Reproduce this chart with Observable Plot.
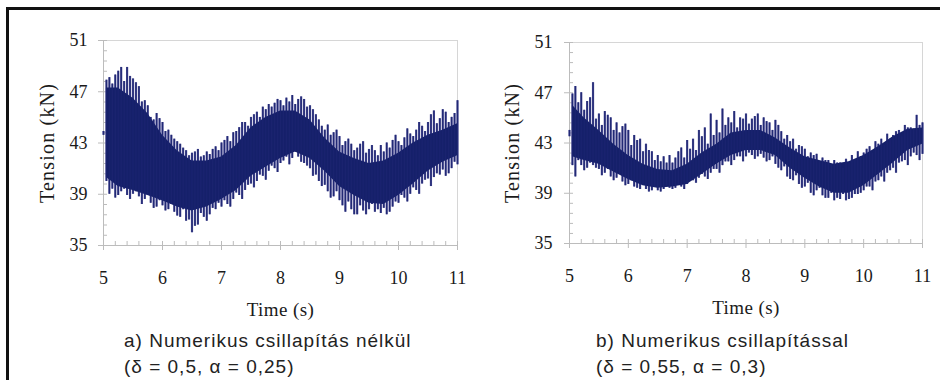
<!DOCTYPE html>
<html><head><meta charset="utf-8">
<script src="https://cdn.jsdelivr.net/npm/d3@7"></script>
<script src="https://cdn.jsdelivr.net/npm/@observablehq/plot@0.6"></script>
<style>
body{margin:0;background:#fff;width:940px;height:380px;overflow:hidden;position:relative;}
#frame{position:absolute;left:6px;top:7px;width:940px;height:380px;border-left:3px solid #111;border-top:3px solid #111;z-index:5;}
.panel{position:absolute;top:0;}
.panel svg, .panel svg text{font-family:"Liberation Serif","Times New Roman",serif !important;}
.cap{position:absolute;font-family:"Liberation Sans",Arial,sans-serif;font-size:19px;letter-spacing:1px;color:#222;line-height:26px;white-space:nowrap;}
</style></head><body>
<div id="frame"></div>
<div id="a" class="panel" style="left:0"></div>
<div id="b" class="panel" style="left:470px"></div>
<div class="cap" style="left:124px;top:328px">a) Numerikus csillapítás nélkül<br>(δ = 0,5, α = 0,25)</div>
<div class="cap" style="left:596px;top:328px">b) Numerikus csillapítással<br>(δ = 0,55, α = 0,3)</div>
<script>
// axis ticks
const xTicks = [5, 6, 7, 8, 9, 10, 11];
const yTicks = [35, 39, 43, 47, 51];
const xLabel = "Time (s)";
const yLabel = "Tension (kN)";

// dense core of the signal (time in s, tension in kN)
const coreT = [5.05,5.25,5.5,5.75,6,6.25,6.5,6.75,7,7.25,7.5,7.75,8,8.25,8.5,8.75,9,9.25,9.5,9.75,10,10.25,10.5,10.75,11];
const aCoreHi = [47.3,47.3,46.5,45.3,43.6,42.4,41.6,41.6,41.9,42.8,44.2,45.0,45.5,45.5,44.8,43.4,42.3,41.8,41.4,41.6,42.2,43.0,43.6,44.0,44.5];
const aCoreLo = [40.3,39.6,39.3,38.9,38.5,38.0,37.7,38.0,38.6,39.3,40.4,41.1,41.8,42.3,41.8,40.8,39.6,38.9,38.3,38.2,38.9,39.8,40.8,41.5,42.0];
const bCoreHi = [46.0,45.0,44.0,42.9,42.0,41.3,40.9,40.8,41.3,42.2,42.9,43.8,44.0,44.0,43.4,42.6,41.9,41.6,41.3,41.5,42.0,42.7,43.5,44.1,44.2];
const bCoreLo = [41.9,41.6,41.3,40.7,40.1,39.6,39.4,39.5,39.7,40.5,41.3,42.0,42.4,42.4,42.0,41.0,40.2,39.5,39.0,39.0,39.6,40.5,41.4,42.4,42.9];

// oscillation extremes (spikes), at whole tenths of a second
const spikeT = [5.0,5.1,5.2,5.3,5.4,5.5,5.6,5.7,5.8,5.9,6.0,6.1,6.2,6.3,6.4,6.5,6.6,6.7,6.8,6.9,7.0,7.1,7.2,7.3,7.4,7.5,7.6,7.7,7.8,7.9,8.0,8.1,8.2,8.3,8.4,8.5,8.6,8.7,8.8,8.9,9.0,9.1,9.2,9.3,9.4,9.5,9.6,9.7,9.8,9.9,10.0,10.1,10.2,10.3,10.4,10.5,10.6,10.7,10.8,10.9,11.0];
const aSpikeHi = [43.9,48.1,48.3,48.9,48.9,48.0,47.4,46.3,45.0,45.3,44.6,44.0,43.3,42.9,42.4,42.2,42.5,42.0,42.1,42.7,43.0,43.5,43.8,44.2,44.6,45.0,45.4,45.8,46.0,46.1,46.3,46.5,46.7,46.4,46.4,45.9,45.2,44.3,44.4,43.8,43.5,43.1,42.9,42.6,43.1,42.5,42.4,42.8,43.0,43.2,43.1,43.4,43.7,44.0,44.3,44.6,45.5,44.9,45.4,45.0,46.3];
const aSpikeLo = [43.6,39.0,38.7,39.2,38.9,39.0,38.8,38.6,38.3,38.0,38.1,37.8,37.6,37.2,36.9,36.0,36.6,37.2,37.4,37.8,38.0,38.2,38.6,38.9,39.3,39.8,40.0,40.4,40.8,41.0,41.4,41.9,41.8,41.9,41.4,41.0,40.5,39.6,39.2,38.8,38.5,37.6,37.8,37.4,37.7,37.8,37.6,37.5,37.4,38.0,38.3,38.7,39.0,39.3,39.8,40.2,40.3,40.5,40.4,41.0,41.3];
const bSpikeHi = [44.0,47.5,47.0,46.3,47.8,45.3,45.5,45.0,44.6,44.3,44.0,43.6,43.3,42.9,42.3,42.0,41.9,42.0,41.8,42.6,43.2,43.3,44.0,44.2,45.3,44.8,45.7,45.0,45.5,45.0,45.3,44.9,45.3,45.0,44.6,44.8,43.9,43.6,43.3,42.8,42.5,42.2,42.1,41.8,41.6,41.6,41.4,41.7,42.0,42.3,42.2,42.7,43.1,43.3,43.7,43.6,44.0,44.4,44.2,45.2,44.6];
const bSpikeLo = [43.5,40.3,41.2,41.0,41.2,40.9,40.6,40.3,40.2,39.9,39.7,39.5,39.3,39.3,39.2,39.2,39.3,39.4,39.4,39.5,39.7,40.0,40.2,40.3,40.6,40.9,41.2,41.5,41.6,41.9,41.9,42.0,41.9,41.8,41.6,41.3,40.8,40.3,40.0,39.7,39.5,39.0,39.2,38.8,38.6,38.4,38.5,38.4,38.6,38.9,39.2,39.5,39.9,40.3,40.6,41.0,41.4,41.6,41.9,42.0,42.1];

// oscillation extremes in between (x.x5 s)
const spikeT2 = [5.05,5.15,5.25,5.35,5.45,5.55,5.65,5.75,5.85,5.95,6.05,6.15,6.25,6.35,6.45,6.55,6.65,6.75,6.85,6.95,7.05,7.15,7.25,7.35,7.45,7.55,7.65,7.75,7.85,7.95,8.05,8.15,8.25,8.35,8.45,8.55,8.65,8.75,8.85,8.95,9.05,9.15,9.25,9.35,9.45,9.55,9.65,9.75,9.85,9.95,10.05,10.15,10.25,10.35,10.45,10.55,10.65,10.75,10.85,10.95];
const aSpike2Hi = [47.9,47.6,48.6,47.8,48.2,47.7,46.2,45.9,44.8,44.9,43.9,43.6,43.1,42.6,42.0,42.3,41.9,42.3,42.5,42.4,43.2,43.1,43.9,44.6,44.3,45.2,45.0,45.6,45.8,46.4,45.9,46.2,46.0,46.6,45.8,45.6,44.8,44.0,43.6,44.0,42.8,43.3,42.4,42.9,42.2,42.8,42.0,42.3,42.6,43.6,42.8,44.1,43.5,44.6,43.9,45.2,44.5,45.6,44.6,45.3];
const aSpike2Lo = [40.0,39.4,38.9,39.4,38.6,39.2,38.2,38.9,37.9,38.5,37.7,38.2,37.3,37.8,37.0,36.5,37.5,36.9,37.9,38.3,38.5,38.0,39.1,38.6,39.7,39.5,40.5,40.1,41.2,40.7,41.6,41.3,42.3,41.5,41.2,40.4,40.0,39.7,38.7,39.2,38.1,38.4,37.4,38.1,37.4,38.2,37.8,37.9,37.6,38.4,38.9,38.4,39.5,39.0,40.1,39.6,40.6,40.9,40.6,41.5];
const bSpike2Hi = [46.9,46.2,45.6,46.6,44.9,44.4,45.2,44.0,43.8,44.5,42.8,43.2,42.3,42.4,41.6,41.5,41.4,41.4,42.3,41.8,42.5,42.4,43.5,42.9,43.6,43.8,44.4,44.6,44.2,44.9,44.5,45.1,44.4,44.7,44.0,44.4,43.3,43.1,42.5,42.7,41.9,42.0,41.5,41.6,41.2,41.4,41.0,41.4,41.6,41.9,42.5,42.2,42.9,42.8,43.3,43.9,43.5,44.2,44.1,44.4];
const bSpike2Lo = [41.2,41.6,40.8,41.4,41.0,40.4,40.9,40.0,40.5,39.6,40.0,39.4,39.7,39.1,39.5,39.1,39.6,39.3,39.7,39.3,40.0,39.8,40.5,40.1,40.9,40.6,41.5,41.2,41.9,41.5,42.2,41.7,42.1,41.5,41.9,41.0,41.1,40.1,40.4,39.4,39.8,38.8,39.4,38.6,39.0,38.6,38.9,38.5,38.9,39.0,39.5,39.2,40.0,39.9,40.8,40.6,41.5,41.2,42.2,41.6];

const xMinor = d3.range(5, 11.001, 0.2);
const yMinor = d3.range(35, 51.001, 0.8);

function panel(cHi, cLo, sHi, sLo, s2Hi, s2Lo, m) {
  const core = coreT.map((t, i) => ({t, hi: cHi[i], lo: cLo[i]}));
  const spikes = spikeT.map((t, i) => ({t, hi: sHi[i], lo: sLo[i]}))
    .concat(spikeT2.map((t, i) => ({t, hi: s2Hi[i], lo: s2Lo[i]})));
  const svg = Plot.plot({
    width: 470, height: 320,
    marginLeft: m.l, marginRight: m.r, marginTop: m.t, marginBottom: m.b,
    x: {domain: [5, 11]},
    y: {domain: [35, 51]},
    style: {fontSize: "18px", color: "#1a1a1a", background: "transparent"},
    marks: [
      Plot.frame({stroke: "#d6d6d6"}),
      Plot.ruleX([5], {stroke: "#bcbcbc"}),
      Plot.ruleY([35], {stroke: "#bcbcbc"}),
      Plot.axisY({ticks: yMinor, tickSize: 4, dx: 4, text: null, label: null, stroke: "#bcbcbc"}),
      Plot.axisX({ticks: xMinor, tickSize: 4, dy: -4, text: null, label: null, stroke: "#bcbcbc"}),
      Plot.axisY({ticks: yTicks, tickSize: 5, tickPadding: m.yp, stroke: "#bcbcbc", fill: "#1a1a1a",
        tickFormat: d => String(d),
        label: yLabel, labelAnchor: "center", labelOffset: m.lo, labelArrow: "none"}),
      Plot.axisX({ticks: xTicks, tickSize: 5, tickPadding: 21, stroke: "#bcbcbc", fill: "#1a1a1a",
        tickFormat: d => String(d),
        label: xLabel, labelAnchor: "center", labelOffset: 70, labelArrow: "none"}),
      Plot.ruleX(spikes, {x: "t", y1: "lo", y2: "hi", stroke: "#5a5a9e", strokeWidth: 2.2}),
      Plot.areaY(core, {x: "t", y1: "lo", y2: "hi", fill: "#15206a"}),
      Plot.ruleX(spikes, {x: "t", y1: "lo", y2: "hi", stroke: "#1b2470", strokeWidth: 1.4, strokeOpacity: 0.9})
    ]
  });
  svg.querySelectorAll('[aria-label="y-axis label"] text').forEach(el => {
    el.setAttribute("letter-spacing", "1.2px");
    el.setAttribute("font-size", "20px");
  });
  svg.querySelectorAll('[aria-label="x-axis label"] text').forEach(el => {
    el.setAttribute("letter-spacing", "0.4px");
    el.setAttribute("font-size", "19px");
  });
  return svg;
}

document.getElementById("a").appendChild(panel(aCoreHi, aCoreLo, aSpikeHi, aSpikeLo, aSpike2Hi, aSpike2Lo, {l: 103, r: 13, t: 40, b: 75, yp: 11, lo: 64}));
document.getElementById("b").appendChild(panel(bCoreHi, bCoreLo, bSpikeHi, bSpikeLo, bSpike2Hi, bSpike2Lo, {l: 99, r: 18, t: 42, b: 77, yp: 12, lo: 65}));
</script>
</body></html>
